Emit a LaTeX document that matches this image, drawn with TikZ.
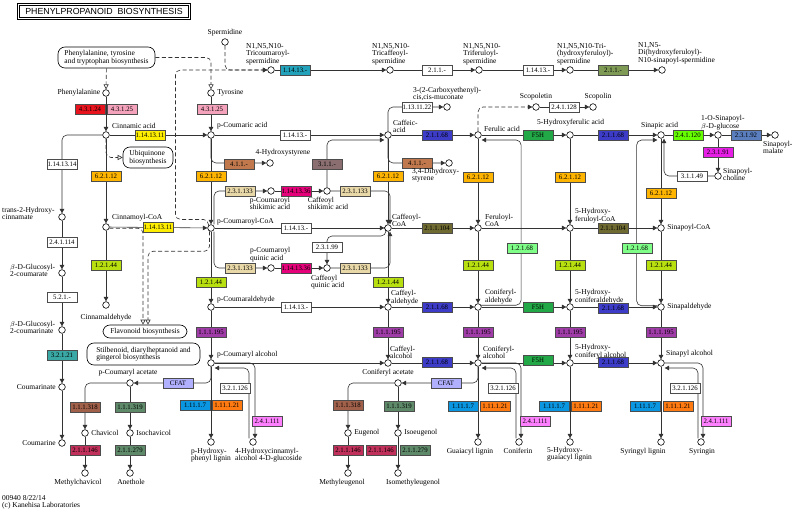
\documentclass[tikz,border=0pt]{standalone}
\usepackage{fontspec}
\setmainfont{Liberation Serif}
\newfontfamily\titlefont{Liberation Sans}
\usetikzlibrary{arrows.meta,positioning,backgrounds}
\definecolor{cRed}{HTML}{E8131D}
\definecolor{cPink}{HTML}{F5A3BC}
\definecolor{cYel}{HTML}{FFEE00}
\definecolor{cTeal}{HTML}{22A3BB}
\definecolor{cOlv}{HTML}{7E9A55}
\definecolor{cAmb}{HTML}{FFB400}
\definecolor{cBrn}{HTML}{C0784C}
\definecolor{cMauve}{HTML}{8A6E70}
\definecolor{cBeige}{HTML}{E9D8A8}
\definecolor{cDeep}{HTML}{E6007A}
\definecolor{cYG}{HTML}{B8E010}
\definecolor{cPurp}{HTML}{A03CA8}
\definecolor{cBlue}{HTML}{3C3CC8}
\definecolor{cGrn}{HTML}{22A846}
\definecolor{cOlive}{HTML}{6E6A32}
\definecolor{cLgrn}{HTML}{80FF88}
\definecolor{cLime}{HTML}{66FF00}
\definecolor{cSteel}{HTML}{5A7EBE}
\definecolor{cMag}{HTML}{E61EE6}
\definecolor{cTeal2}{HTML}{3AA8A4}
\definecolor{cAzure}{HTML}{0A96E0}
\definecolor{cOrng}{HTML}{FF7A10}
\definecolor{cOrchid}{HTML}{FF80FF}
\definecolor{cLav}{HTML}{B0B0FF}
\definecolor{cBrn2}{HTML}{A0604A}
\definecolor{cGG}{HTML}{5E8A6A}
\definecolor{cCrim}{HTML}{C0305A}
\newcommand\cpdfont{\fontsize{7.5}{7.5}\selectfont}
\newcommand\ecfont{\fontsize{6.8}{7}\selectfont}
\tikzset{
  cpd/.style={circle,draw=black,fill=white,line width=0.6pt,inner sep=0pt,minimum size=6.6pt},
  ec/.style={draw=black!70,fill=#1,line width=0.5pt,inner sep=0pt,
             minimum width=30pt,minimum height=10pt,font=\ecfont},
  ec/.default=white,
  lbl/.style={font=\cpdfont,inner sep=0pt,align=left},
  mapbox/.style={draw=black,fill=white,rounded corners=7pt,line width=0.6pt,
                 font=\cpdfont,align=left,inner sep=2pt},
  titlebox/.style={draw=black,line width=0.7pt,double=white,double distance=0.9pt,
                   minimum width=171pt,minimum height=14pt,inner sep=0pt,
                   font=\titlefont\fontsize{8.8}{9}\selectfont},
  rx/.style={draw=black!80,line width=0.6pt,-{Triangle[length=4.5pt,width=4.5pt]}},
  rxr/.style={rx,rounded corners=5pt},
  multi/.style={rx,dash pattern=on 4pt off 2.5pt,rounded corners=5pt},
  lnk/.style={draw=black!80,line width=0.6pt,dash pattern=on 4pt off 2.5pt,rounded corners=5pt,
              -{Triangle[open,length=5pt,width=5pt]}},
}

\begin{document}
\begin{tikzpicture}[x=1pt,y=-1pt]
  \useasboundingbox (0,0) rectangle (793,513);
  \node[titlebox] (title) at (104,11.5) {PHENYLPROPANOID\ \ BIOSYNTHESIS};

  % other maps
  \node[mapbox,minimum width=97pt,minimum height=21pt] (phemap) at (106.5,57.5)
    {Phenylalanine, tyrosine\\and tryptophan biosynthesis};
  \node[mapbox,minimum width=50pt,minimum height=21pt] (ubq) at (148,157.5) {Ubiquinone\\biosynthesis};
  \node[mapbox,minimum width=84pt,minimum height=13pt] (flav) at (145,331.5) {Flavonoid biosynthesis};
  \node[mapbox,minimum width=113pt,minimum height=22pt] (stil) at (143.5,354)
    {Stilbenoid, diarylheptanoid and\\gingerol biosynthesis};

  % compounds
  \foreach \n/\x/\y in {phe/106/93, cin/106/135, tyr/211/93, pcou/211/135, sper/225/42,
      tcs/271/70, tcaf/390/70, tfer/479/70, thf/570/70, dhs/662/70,
      caf/388/135, carb/447/107, dhst/449/163, hst/270/163, fer/478/135,
      scop/536/107, scopn/593/107, hfa/570/135, sin/661/135, sglc/718/135,
      smal/775/135, schol/718/176,
      t2h/62/217, glcm/62/273, glcn/62/330, cmt/62/387, cmr/62/443,
      cincoa/106/227, cinald/106/305,
      pcoa/211/228, pcsh/271/191, cfsh/327/191, pcqu/271/268, cfqu/327/268,
      cfcoa/388/228, fercoa/478/228, hfcoa/570/228, sincoa/661/228,
      pcald/211/307, cfald/388/307, coald/478/307, hcald/570/307, sinald/661/307,
      pcalc/211/363, cfalc/388/363, coalc/478/363, hcalc/570/363, sinalc/661/363,
      phl/211/442, hcg/253/442, gul/478/442, conif/519/442, hgl/570/442,
      syl/661/442, syr/701/442,
      pcac/130/383, chav/85/433, ichav/130/433, mchav/85/473, anet/130/473,
      coac/398/383, eug/348/433, ieug/398/433, meug/348/473, imeug/398/473}
    \node[cpd] (\n) at (\x,\y) {};

  % enzymes
  \foreach \n/\x/\y/\c/\t in {e1/90/109/cRed/4.3.1.24, e2/122/109/cPink/4.3.1.25,
      e3/150/135/cYel/1.14.13.11, e4/62/164/white/1.14.13.14, e5/106/176/cAmb/6.2.1.12,
      e6/212/109/cPink/4.3.1.25, e7/295/70/cTeal/1.14.13.-, e8/437/70/white/2.1.1.-,
      e9/538/70/white/1.14.13.-, e10/613/70/cOlv/2.1.1.-, e11/295/135/white/1.14.13.-,
      e12/239/164/cBrn/4.1.1.-, e13/327/164/cMauve/3.1.1.-, e14/417/107/white/1.13.11.22,
      e15/417/163/cBrn/4.1.1.-, e16/437/135/cBlue/2.1.1.68, e17/564/107/white/2.4.1.128,
      e18/538/135/cGrn/F5H, e19/613/135/cBlue/2.1.1.68, e20/688/135/cLime/2.4.1.120,
      e21/746/135/cSteel/2.3.1.92, e22/718/152/cMag/2.3.1.91, e23/692/176/white/3.1.1.49,
      e24/211/176/cAmb/6.2.1.12, e25/388/176/cAmb/6.2.1.12, e26/478/177/cAmb/6.2.1.12,
      e27/570/177/cAmb/6.2.1.12, e28/661/193/cAmb/6.2.1.12,
      e29/62/242/white/2.4.1.114, e30/62/297/white/5.2.1.-, e31/62/355/cTeal2/3.2.1.21,
      e32/158/227/cYel/1.14.13.11, e33/106/265/cYG/1.2.1.44,
      e34/240/191/cBeige/2.3.1.133, e35/296/191/cDeep/1.14.13.36, e36/355/191/cBeige/2.3.1.133,
      e37/296/228/white/1.14.13.-, e38/327/247/white/2.3.1.99,
      e39/240/268/cBeige/2.3.1.133, e40/296/268/cDeep/1.14.13.36, e41/355/268/cBeige/2.3.1.133,
      e42/437/228/cOlive/2.1.1.104, e43/613/228/cOlive/2.1.1.104,
      e44/522/248/cLgrn/1.2.1.68, e45/637/248/cLgrn/1.2.1.68,
      e46/211/282/cYG/1.2.1.44, e47/388/282/cYG/1.2.1.44, e48/478/265/cYG/1.2.1.44,
      e49/570/265/cYG/1.2.1.44, e50/661/265/cYG/1.2.1.44,
      e51/296/307/white/1.14.13.-, e52/437/307/cBlue/2.1.1.68, e53/538/307/cGrn/F5H,
      e54/613/308/cBlue/2.1.1.68,
      e55/211/332/cPurp/1.1.1.195, e56/388/332/cPurp/1.1.1.195, e57/478/332/cPurp/1.1.1.195,
      e58/570/332/cPurp/1.1.1.195, e59/661/332/cPurp/1.1.1.195,
      e60/437/362/cBlue/2.1.1.68, e61/538/360/cGrn/F5H, e62/613/362/cBlue/2.1.1.68,
      e63/195/405/cAzure/1.11.1.7, e64/227/405/cOrng/1.11.1.21,
      e65/235/388/white/3.2.1.126, e66/267/421/cOrchid/2.4.1.111,
      e67/463/406/cAzure/1.11.1.7, e68/495/406/cOrng/1.11.1.21,
      e69/503/388/white/3.2.1.126, e70/535/421/cOrchid/2.4.1.111,
      e71/554/406/cAzure/1.11.1.7, e72/586/406/cOrng/1.11.1.21,
      e73/645/406/cAzure/1.11.1.7, e74/678/406/cOrng/1.11.1.21,
      e75/685/388/white/3.2.1.126, e76/716/421/cOrchid/2.4.1.111,
      e77/178/383/cLav/CFAT, e78/446/383/cLav/CFAT,
      e79/85/407/cBrn2/1.1.1.318, e80/130/407/cGG/1.1.1.319,
      e81/85/450/cCrim/2.1.1.146, e82/130/450/cGG/2.1.1.279,
      e83/348/405/cBrn2/1.1.1.318, e84/399/406/cGG/1.1.1.319,
      e85/348/450/cCrim/2.1.1.146, e86/381/450/cCrim/2.1.1.146, e87/415/450/cGG/2.1.1.279}
    \node[ec=\c] (\n) at (\x,\y) {\t};

  % compound names
  \node[lbl,left=2pt of phe] (phel) {Phenylalanine};
  \node[lbl,anchor=west] (cinl) at (112,126) {Cinnamic acid};
  \node[lbl,right=2.5pt of tyr] (tyrl) {Tyrosine};
  \node[lbl,anchor=west] (pcoul) at (217,126) {p-Coumaric acid};
  \node[lbl,above=2.5pt of sper] (sperl) {Spermidine};
  \node[lbl,anchor=south west] (tcsl) at (246,65) {N1,N5,N10-\\Tricoumaroyl-\\spermidine};
  \node[lbl,anchor=south west] (tcafl) at (372,65) {N1,N5,N10-\\Tricaffeoyl-\\spermidine};
  \node[lbl,anchor=south west] (tferl) at (463,65) {N1,N5,N10-\\Triferuloyl-\\spermidine};
  \node[lbl,anchor=south west] (thfl) at (557,65) {N1,N5,N10-Tri-\\(hydroxyferuloyl)-\\spermidine};
  \node[lbl,anchor=south west] (dhsl) at (638,64) {N1,N5-\\Di(hydroxyferuloyl)-\\N10-sinapoyl-spermidine};
  \node[lbl,anchor=south west] (carbl) at (413,101) {3-(2-Carboxyethenyl)-\\cis,cis-muconate};
  \node[lbl,anchor=south west] (cafl) at (393,133) {Caffeic-\\acid};
  \node[lbl,anchor=north west] (dhstl) at (412,168) {3,4-Dihydroxy-\\styrene};
  \node[lbl] (hstl) at (283,153) {4-Hydroxystyrene};
  \node[lbl,anchor=west] (ferl) at (484,129) {Ferulic acid};
  \node[lbl] (scopl) at (536,97) {Scopoletin};
  \node[lbl] (scopnl) at (598,97) {Scopolin};
  \node[lbl,anchor=west] (hfal) at (537,123) {5-Hydroxyferulic acid};
  \node[lbl,anchor=west] (sinl) at (641,126) {Sinapic acid};
  \node[lbl,anchor=south west] (sglcl) at (701,130) {1-O-Sinapoyl-\\$\beta$-D-glucose};
  \node[lbl,anchor=north west] (small) at (763,141) {Sinapoyl-\\malate};
  \node[lbl,anchor=north west] (scholl) at (723,168) {Sinapoyl-\\choline};
  \node[lbl,anchor=north west] (t2hl) at (2,207) {trans-2-Hydroxy-\\cinnamate};
  \node[lbl,anchor=north west] (glcml) at (10,264) {$\beta$-D-Glucosyl-\\2-coumarate};
  \node[lbl,anchor=north west] (glcnl) at (10,321) {$\beta$-D-Glucosyl-\\2-coumarinate};
  \node[lbl,left=2.5pt of cmt] (cmtl) {Coumarinate};
  \node[lbl,left=2.5pt of cmr] (cmrl) {Coumarine};
  \node[lbl,anchor=west] (cincoal) at (112,218) {Cinnamoyl-CoA};
  \node[lbl,below=5pt of cinald] (cinaldl) {Cinnamaldehyde};
  \node[lbl,anchor=west] (pcoal) at (217,222) {p-Coumaroyl-CoA};
  \node[lbl,anchor=north] (pcshl) at (270,197) {p-Coumaroyl\\shikimic acid};
  \node[lbl,anchor=north] (cfshl) at (328,197) {Caffeoyl\\shikimic acid};
  \node[lbl,anchor=south west] (pcqul) at (250,262) {p-Coumaroyl\\quinic acid};
  \node[lbl,anchor=north west] (cfqul) at (311,275) {Caffeoyl\\quinic acid};
  \node[lbl,anchor=south west] (cfcoal) at (392,227) {Caffeoyl-\\CoA};
  \node[lbl,anchor=south west] (fercoal) at (485,227) {Feruloyl-\\CoA};
  \node[lbl,anchor=south west] (hfcoal) at (575,223) {5-Hydroxy-\\feruloyl-CoA};
  \node[lbl,right=2.5pt of sincoa] (sincoal) {Sinapoyl-CoA};
  \node[lbl,anchor=west] (pcaldl) at (217,300) {p-Coumaraldehyde};
  \node[lbl,anchor=south west] (cfaldl) at (391,305) {Caffeyl-\\aldehyde};
  \node[lbl,anchor=south west] (coaldl) at (485,304) {Coniferyl-\\aldehyde};
  \node[lbl,anchor=south west] (hcaldl) at (575,304) {5-Hydroxy-\\coniferaldehyde};
  \node[lbl,right=2.5pt of sinald] (sinaldl) {Sinapaldehyde};
  \node[lbl,anchor=west] (pcalcl) at (217,355) {p-Coumaryl alcohol};
  \node[lbl,anchor=south west] (cfalcl) at (390,359) {Caffeyl-\\alcohol};
  \node[lbl,anchor=south west] (coalcl) at (483,359) {Coniferyl-\\alcohol};
  \node[lbl,anchor=south west] (hcalcl) at (575,359) {5-Hydroxy-\\coniferyl alcohol};
  \node[lbl,anchor=west] (sinalcl) at (666,354) {Sinapyl alcohol};
  \node[lbl,anchor=north] (phll) at (211,448) {p-Hydroxy-\\phenyl lignin};
  \node[lbl,anchor=north west] (hcgl) at (235,448) {4-Hydroxycinnamyl-\\alcohol 4-D-glucoside};
  \node[lbl,anchor=north] (gull) at (470,448) {Guaiacyl lignin};
  \node[lbl,anchor=north] (conifl) at (518,448) {Coniferin};
  \node[lbl,anchor=north west] (hgll) at (547,447) {5-Hydroxy-\\guaiacyl lignin};
  \node[lbl,anchor=north] (syll) at (643,448) {Syringyl lignin};
  \node[lbl,anchor=north] (syrl) at (702,448) {Syringin};
  \node[lbl] (pcacl) at (128,373) {p-Coumaryl acetate};
  \node[lbl,right=2.5pt of chav] (chavl) {Chavicol};
  \node[lbl,right=2.5pt of ichav] (ichavl) {Isochavicol};
  \node[lbl,anchor=north] (mchavl) at (78,479) {Methylchavicol};
  \node[lbl,anchor=north] (anetl) at (131,479) {Anethole};
  \node[lbl] (coacl) at (388,373) {Coniferyl acetate};
  \node[lbl,right=2.5pt of eug] (eugl) {Eugenol};
  \node[lbl,right=2.5pt of ieug] (ieugl) {Isoeugenol};
  \node[lbl,anchor=north] (meugl) at (342,479) {Methyleugenol};
  \node[lbl,anchor=north] (imeugl) at (413,479) {Isomethyleugenol};
  \node[lbl,anchor=north west] (foot) at (2,495) {00940 8/22/14\\(c) Kanehisa Laboratories};

  \begin{scope}[on background layer]
    \fill[white] (0,0) rectangle (793,513);
    % links to and from other maps
    \draw[lnk] (phemap) -- (phe);
    \draw[lnk] (phemap.east) -| (tyr);
    \draw[lnk] (cin) |- (ubq);
    \draw[lnk] (cincoa.-20) -| ([xshift=-2pt]flav.north);
    \draw[lnk] (pcoa.-115) -- ++(0,20) -| ([xshift=3pt]flav.north);
    % multi-step
    \draw[multi] (sper) |- (tcs);
    \draw[multi] (pcoa.135) |- ++(-33,-6) |- (tcs);
    \draw[multi] (fer) |- (scop);
    % top row
    \draw[rx] (tcs) -- (tcaf);
    \draw[rx] (tcaf) -- (tfer);
    \draw[rx] (tfer) -- (thf);
    \draw[rx] (thf) -- (dhs);
    % acids
    \draw[rx] (phe) -- (cin);
    \draw[rx] (tyr) -- (pcou);
    \draw[rx] (cin) -- (pcou);
    \draw[rx] (pcou) -- (caf);
    \draw[rx] (caf) -- (fer);
    \draw[rx] (fer) -- (hfa);
    \draw[rx] (hfa) -- (sin);
    \draw[rx] (sin) -- (sglc);
    \draw[rx] (sglc) -- (smal);
    \draw[rx] (sglc) -- (schol);
    \draw[rx] (scop) -- (scopn);
    \draw[rxr] (schol) -| ([xshift=3pt]sin.south);
    \draw[rxr] (pcou) |- (hst);
    \draw[rxr] (caf) |- (carb);
    \draw[rxr] (caf) |- (dhst);
    \draw[rxr] (cfsh) |- ([yshift=-5pt]caf.west);
    % coumarin branch
    \draw[rxr] (cin) -| (t2h);
    \draw[rx] (t2h) -- (glcm);
    \draw[rx] (glcm) -- (glcn);
    \draw[rx] (glcn) -- (cmt);
    \draw[rx] (cmt) -- (cmr);
    % CoA esters
    \draw[rx] (cin) -- (cincoa);
    \draw[rx] (pcou) -- (pcoa);
    \draw[rx] (caf) -- (cfcoa);
    \draw[rx] (fer) -- (fercoa);
    \draw[rx] (hfa) -- (hfcoa);
    \draw[rx] (sin) -- (sincoa);
    \draw[rx] (cincoa) -- (pcoa);
    \draw[rx] (pcoa) -- (cfcoa);
    \draw[rx] (cfcoa) -- (fercoa);
    \draw[rx] (fercoa) -- (hfcoa);
    \draw[rx] (hfcoa) -- (sincoa);
    % shikimate and quinate shunt
    \draw[rxr] ([xshift=3pt]pcoa.north) |- (pcsh);
    \draw[rx] (pcsh) -- (cfsh);
    \draw[rxr] (cfsh) -| ([xshift=2pt]cfcoa.north);
    \draw[rxr] ([xshift=3pt]pcoa.south) |- (pcqu);
    \draw[rx] (pcqu) -- (cfqu);
    \draw[rxr] (cfqu) -| ([xshift=2pt]cfcoa.south);
    \draw[rxr,{Triangle[length=4.5pt,width=4.5pt]}-{Triangle[length=4.5pt,width=4.5pt]}]
      (cfqu) -- ++(0,-32) -| ([xshift=-2pt]cfcoa.south);
    % aldehydes
    \draw[rx] (cincoa) -- (cinald);
    \draw[rx] (pcoa) -- (pcald);
    \draw[rx] (cfcoa) -- (cfald);
    \draw[rx] (fercoa) -- (coald);
    \draw[rx] (hfcoa) -- (hcald);
    \draw[rx] (sincoa) -- (sinald);
    \draw[rx] (pcald) -- (cfald);
    \draw[rx] (cfald) -- (coald);
    \draw[rx] (coald) -- (hcald);
    \draw[rx] (hcald) -- (sinald);
    \draw[rxr] (coald.30) -- ++(40,0) |- ([yshift=-5pt]fer.east);
    \draw[rxr] (sinald.160) -- ++(-21,0) |- ([yshift=-5pt]sin.west);
    % alcohols
    \draw[rx] (pcald) -- (pcalc);
    \draw[rx] (cfald) -- (cfalc);
    \draw[rx] (coald) -- (coalc);
    \draw[rx] (hcald) -- (hcalc);
    \draw[rx] (sinald) -- (sinalc);
    \draw[rx] (pcalc) -- (cfalc);
    \draw[rx] (cfalc) -- (coalc);
    \draw[rx] (coalc) -- (hcalc);
    \draw[rx] (hcalc) -- (sinalc);
    % lignins and glucosides
    \draw[rx] (pcalc) -- (phl);
    \draw[rx] (coalc) -- (gul);
    \draw[rx] (hcalc) -- (hgl);
    \draw[rx] (sinalc) -- (syl);
    \draw[rxr] (pcalc) -| ([xshift=2pt]hcg.north);
    \draw[rxr] ([xshift=-4pt]hcg.north) |- ([yshift=-5pt]pcalc.east);
    \draw[rxr] (coalc) -| ([xshift=2pt]conif.north);
    \draw[rxr] ([xshift=-3pt]conif.north) |- ([yshift=-5pt]coalc.east);
    \draw[rxr] (sinalc) -| ([xshift=2pt]syr.north);
    \draw[rxr] ([xshift=-3pt]syr.north) |- ([yshift=-5pt]sinalc.east);
    % acetates
    \draw[rxr] (pcalc) |- (pcac);
    \draw[rxr] (pcac) -| (chav);
    \draw[rx] (pcac) -- (ichav);
    \draw[rx] (chav) -- (mchav);
    \draw[rx] (ichav) -- (anet);
    \draw[rxr] (coalc) |- (coac);
    \draw[rxr] (coac) -| (eug);
    \draw[rx] (coac) -- (ieug);
    \draw[rx] (eug) -- (meug);
    \draw[rx] (ieug) -- (imeug);
  \end{scope}
\end{tikzpicture}
\end{document}
